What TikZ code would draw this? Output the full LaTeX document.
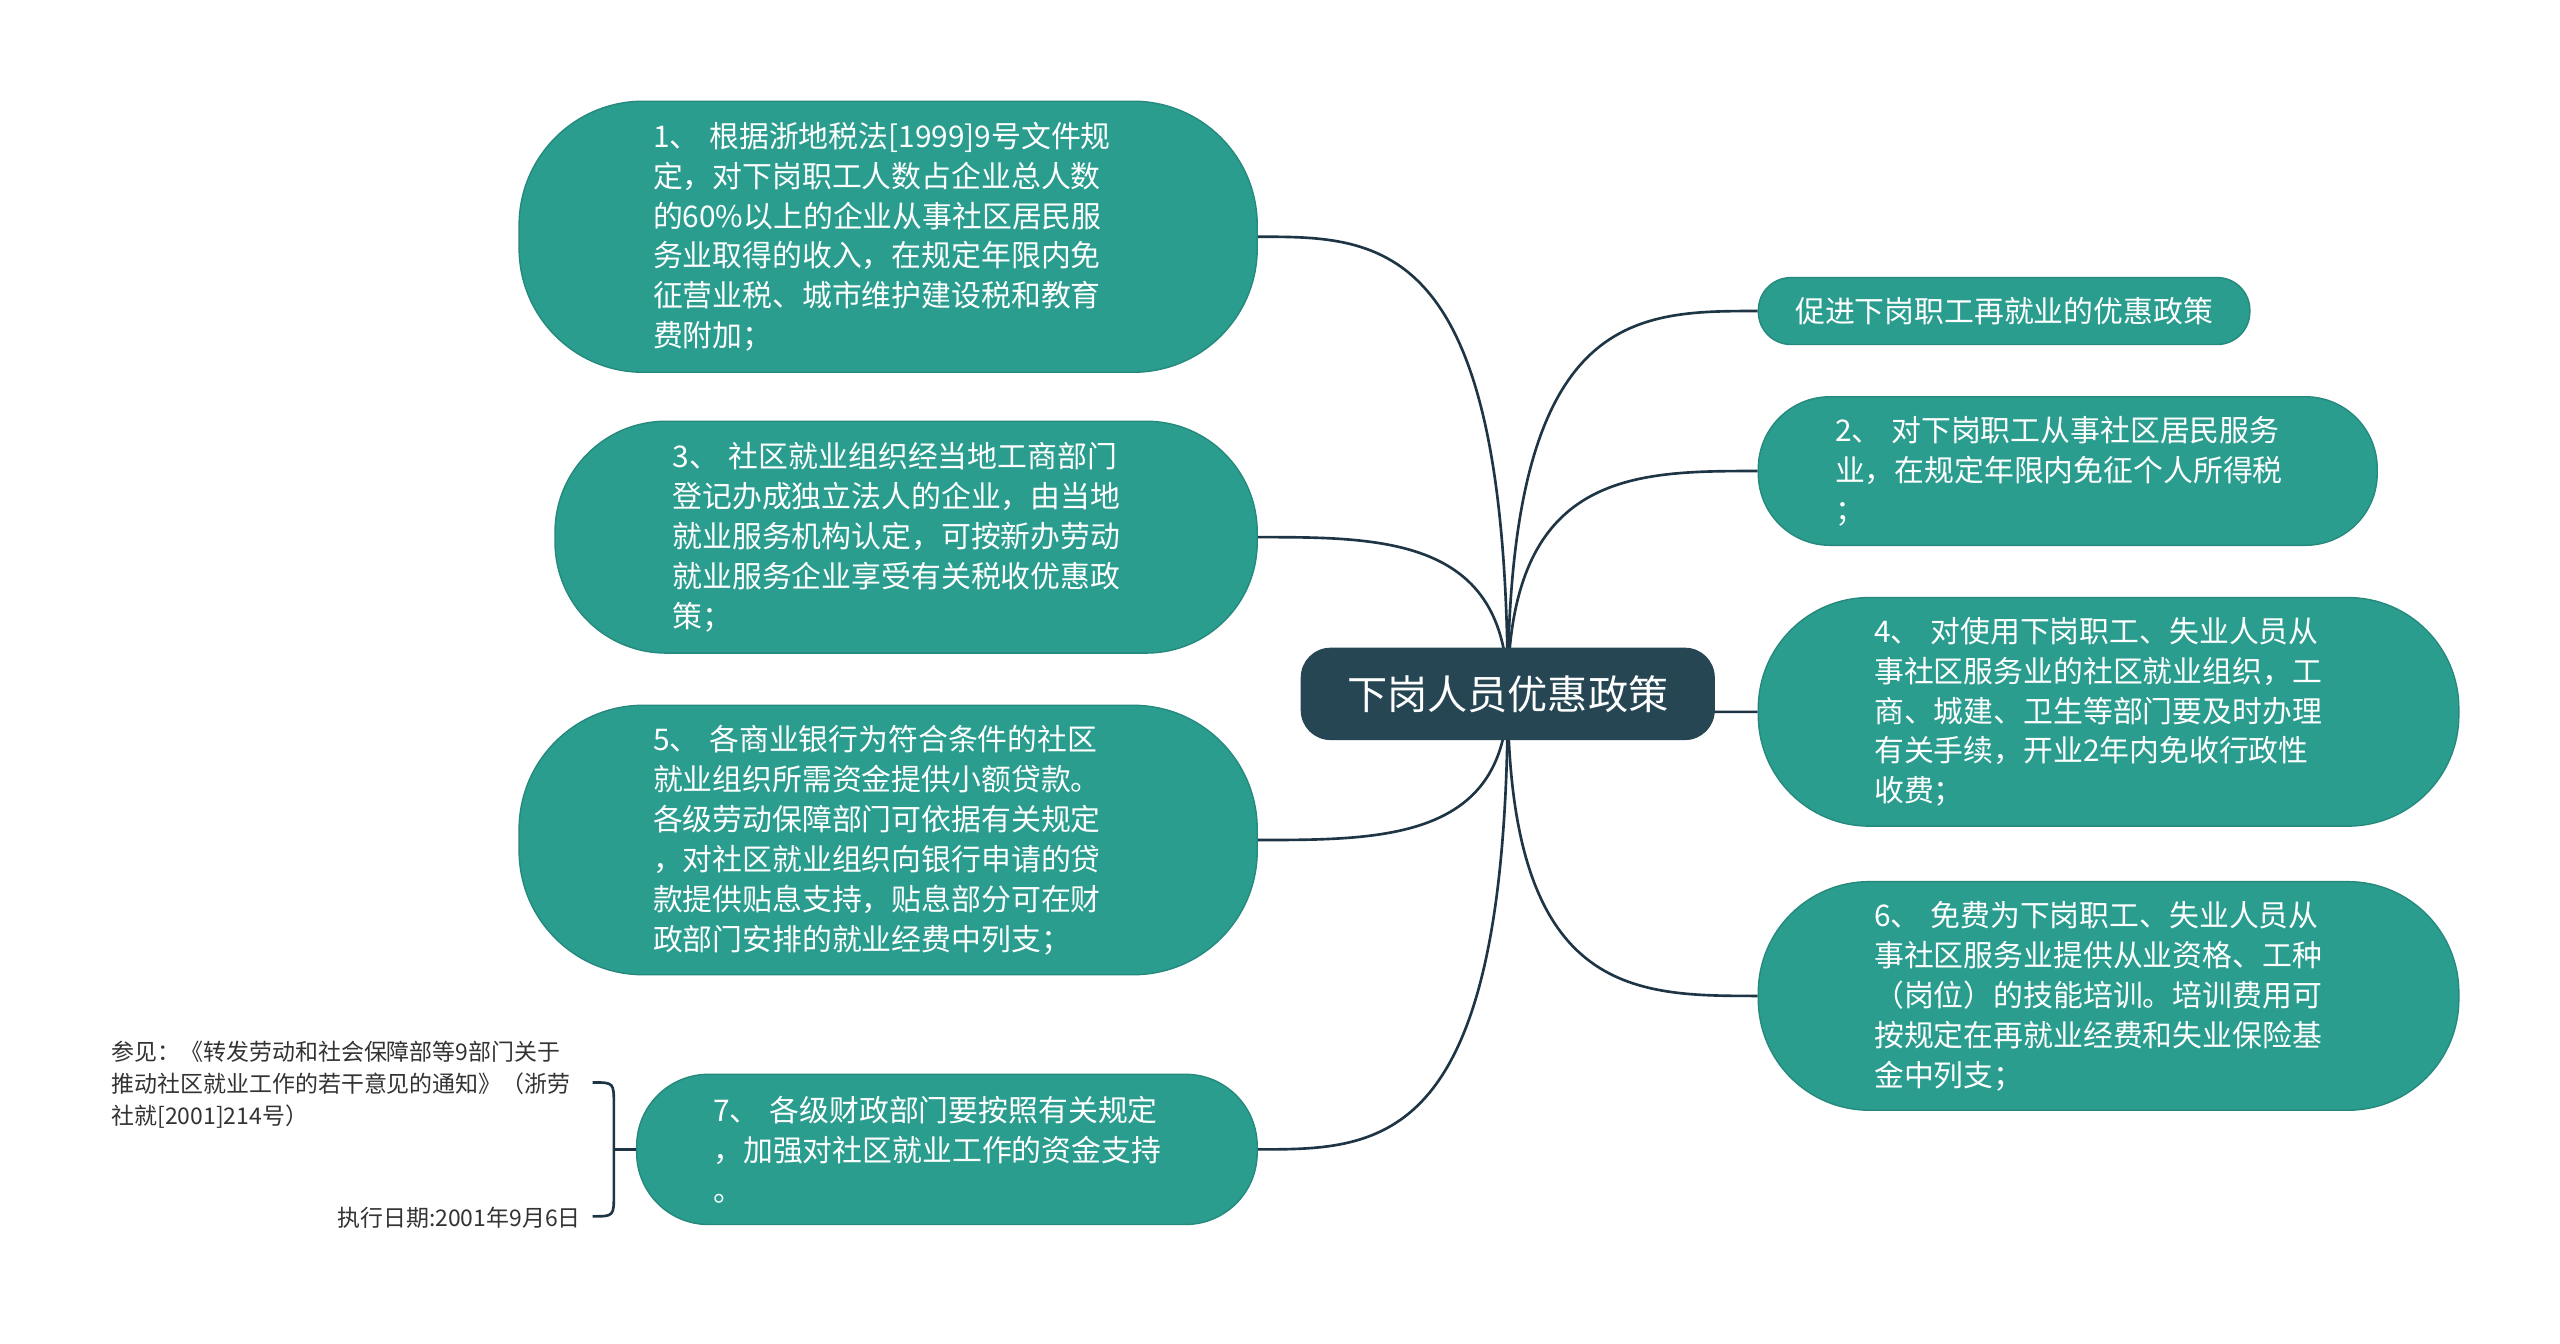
\documentclass[tikz,border=0pt]{standalone}
\usepackage{fontspec}
\setmainfont{Noto Sans CJK SC}
\usetikzlibrary{calc,backgrounds}
\definecolor{leafcol}{HTML}{2A9D8F}
\definecolor{leafedge}{HTML}{25897D}
\definecolor{rootcol}{HTML}{264653}
\definecolor{linkcol}{HTML}{1D3545}
\definecolor{notecol}{HTML}{333333}
\tikzstyle{rootnode}=[fill=rootcol,draw=rootcol,text=white,inner sep=0pt,font=\fontsize{17.5}{21}\selectfont]
\tikzstyle{leafnode}=[fill=leafcol,draw=leafedge,line width=0.6pt,text=white,inner sep=0pt,align=left,font=\fontsize{13}{17.4}\selectfont]
\tikzstyle{notetext}=[text=notecol,inner sep=0pt,align=left,font=\fontsize{10}{13.9}\selectfont]
\tikzstyle{curvelink}=[draw=linkcol,line width=1.15pt,
  to path={.. controls (\tikztostart |- \tikztotarget) and ($(\tikztostart |- \tikztotarget)!.5!(\tikztotarget)$) .. (\tikztotarget)}]
\tikzstyle{link}=[draw=linkcol,line width=1.15pt]
\begin{document}
\begin{tikzpicture}[x=0.025cm,y=-0.025cm]
	\path[use as bounding box] (0,0) rectangle (1568,823);
	% centre
	\node[rootnode,rounded corners=0.45cm,minimum width=6.325cm,minimum height=1.4cm] (c) at (923.5,425) {下岗人员优惠政策};
	% left side
	\node[leafnode,text width=7.2cm,rounded corners=1.9cm,minimum width=11.3cm,minimum height=4.15cm] (n1) at (544,145)
		{1、 根据浙地税法[1999]9号文件规\\定，对下岗职工人数占企业总人数\\的60\%以上的企业从事社区居民服\\务业取得的收入，在规定年限内免\\征营业税、城市维护建设税和教育\\费附加；};
	\node[leafnode,text width=7.15cm,rounded corners=1.7cm,minimum width=10.75cm,minimum height=3.55cm] (n3) at (555,329)
		{3、 社区就业组织经当地工商部门\\登记办成独立法人的企业，由当地\\就业服务机构认定，可按新办劳动\\就业服务企业享受有关税收优惠政\\策；};
	\node[leafnode,text width=7.2cm,rounded corners=1.9cm,minimum width=11.3cm,minimum height=4.125cm] (n5) at (544,514.5)
		{5、 各商业银行为符合条件的社区\\就业组织所需资金提供小额贷款。\\各级劳动保障部门可依据有关规定\\，对社区就业组织向银行申请的贷\\款提供贴息支持，贴息部分可在财\\政部门安排的就业经费中列支；};
	\node[leafnode,text width=7.15cm,rounded corners=1.1cm,minimum width=9.5cm,minimum height=2.3cm] (n7) at (580,704)
		{7、 各级财政部门要按照有关规定\\，加强对社区就业工作的资金支持\\。};
	% right side
	\node[leafnode,rounded corners=0.5cm,minimum width=7.525cm,minimum height=1.025cm] (r0) at (1227.5,190.5)
		{促进下岗职工再就业的优惠政策};
	\node[leafnode,text width=7.125cm,rounded corners=1.1cm,minimum width=9.475cm,minimum height=2.275cm] (n2) at (1266.5,288.5)
		{2、 对下岗职工从事社区居民服务\\业，在规定年限内免征个人所得税\\；};
	\node[leafnode,text width=7.175cm,rounded corners=1.7cm,minimum width=10.725cm,minimum height=3.5cm] (n4) at (1291.5,436)
		{4、 对使用下岗职工、失业人员从\\事社区服务业的社区就业组织，工\\商、城建、卫生等部门要及时办理\\有关手续，开业2年内免收行政性\\收费；};
	\node[leafnode,text width=7.175cm,rounded corners=1.7cm,minimum width=10.725cm,minimum height=3.5cm] (n6) at (1291.5,610)
		{6、 免费为下岗职工、失业人员从\\事社区服务业提供从业资格、工种\\（岗位）的技能培训。培训费用可\\按规定在再就业经费和失业保险基\\金中列支；};
	% notes of 7
	\node[notetext,anchor=west] (ref) at (68,664.5)
		{参见：《转发劳动和社会保障部等9部门关于\\推动社区就业工作的若干意见的通知》（浙劳\\社就[2001]214号）};
	\node[notetext,anchor=east] (date) at (356,746) {执行日期:2001年9月6日};
	\coordinate (bt) at (363,663);
	\coordinate (bb) at (363,745);
	\coordinate (bm) at (376,704);
	\draw[link] (bt) .. controls (376,663) .. (376,677) -- (376,731) .. controls (376,745) .. (bb);
	\draw[link] (bm) -- (n7.west);
	\begin{scope}[on background layer]
		\fill[white] (0,0) rectangle (1568,823);
		\draw[curvelink] (c.center) to (n1.east);
		\draw[curvelink] (c.center) to (n3.east);
		\draw[curvelink] (c.center) to (n5.east);
		\draw[curvelink] (c.center) to (n7.east);
		\draw[curvelink] (c.center) to (r0.west);
		\draw[curvelink] (c.center) to (n2.west);
		\draw[curvelink] (c.center) to (n4.west);
		\draw[curvelink] (c.center) to (n6.west);
	\end{scope}
\end{tikzpicture}
\end{document}
